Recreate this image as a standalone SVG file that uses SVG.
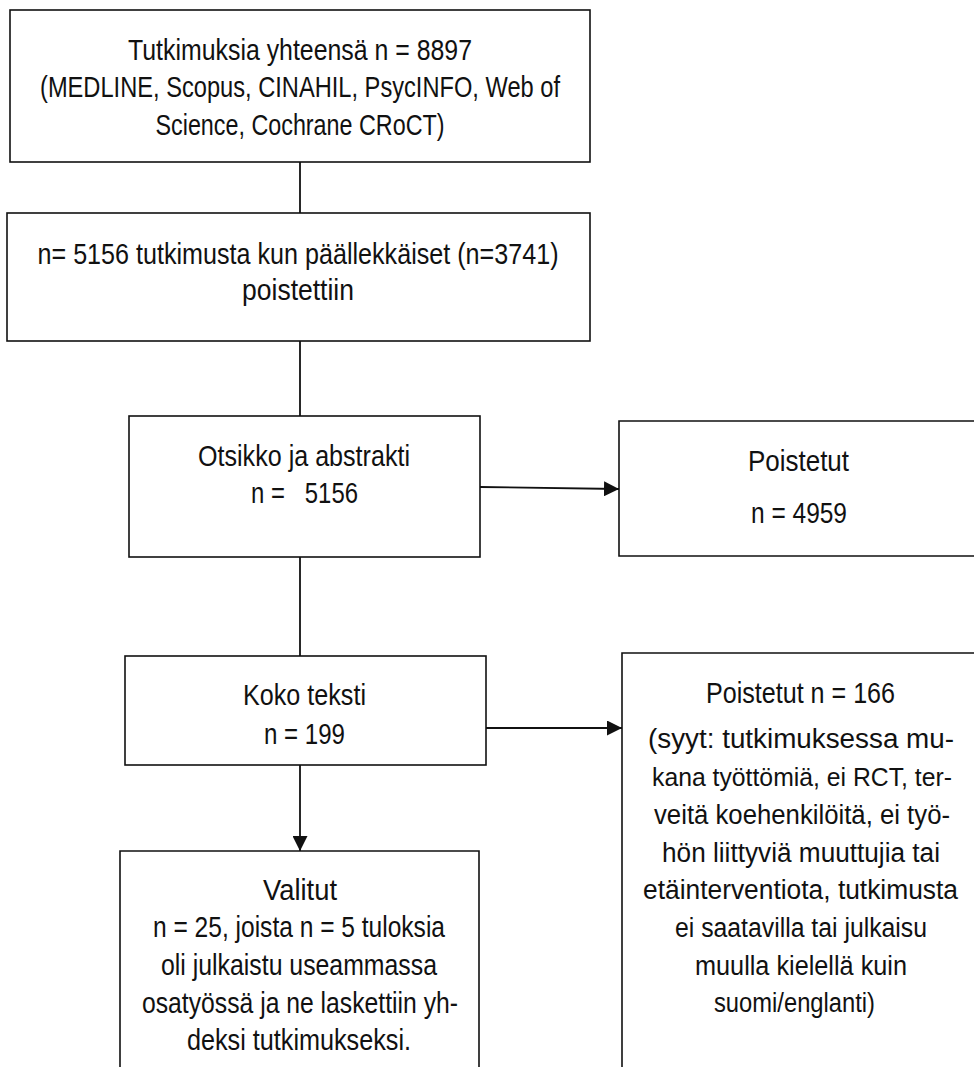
<svg xmlns="http://www.w3.org/2000/svg" width="974" height="1067" viewBox="0 0 974 1067">
<style>
.box{fill:#fff;stroke:#111;stroke-width:1.6}
.t{font-family:"Liberation Sans",Arial,sans-serif;font-size:29px;fill:#111;text-anchor:middle}
.s{font-size:27px}
.s2{font-size:25.5px}
.ln{stroke:#111;stroke-width:1.8;fill:none}
</style>
<defs>
<marker id="ah2" viewBox="0 0 10 10" refX="10" refY="5" markerWidth="15" markerHeight="15" markerUnits="userSpaceOnUse" orient="auto">
<path d="M0,0 L10,5 L0,10 z" fill="#111"/>
</marker>
</defs>
<g id="connectors">
<line class="ln" x1="300" y1="162" x2="300" y2="213"/>
<line class="ln" x1="300" y1="341" x2="300" y2="416"/>
<line class="ln" x1="300" y1="557" x2="300" y2="656"/>
<line class="ln" x1="480" y1="487" x2="619" y2="489" marker-end="url(#ah2)"/>
<line class="ln" x1="486" y1="728" x2="622" y2="728" marker-end="url(#ah2)"/>
<line class="ln" x1="300" y1="765" x2="300" y2="851" marker-end="url(#ah2)"/>
</g>
<g id="n1">
<rect class="box" x="10" y="10" width="580" height="152"/>
<text class="t" x="300" y="60" textLength="344" lengthAdjust="spacingAndGlyphs">Tutkimuksia yhteensä n = 8897</text>
<text class="t" x="300" y="97" textLength="520" lengthAdjust="spacingAndGlyphs">(MEDLINE, Scopus, CINAHIL, PsycINFO, Web of</text>
<text class="t" x="300" y="135" textLength="289" lengthAdjust="spacingAndGlyphs">Science, Cochrane CRoCT)</text>
</g>
<g id="n2">
<rect class="box" x="7" y="213" width="583" height="128"/>
<text class="t" x="298" y="264" textLength="521" lengthAdjust="spacingAndGlyphs">n= 5156 tutkimusta kun päällekkäiset (n=3741)</text>
<text class="t" x="298" y="300" textLength="112" lengthAdjust="spacingAndGlyphs">poistettiin</text>
</g>
<g id="n3">
<rect class="box" x="129" y="416" width="351" height="141"/>
<text class="t" x="304" y="466" textLength="212" lengthAdjust="spacingAndGlyphs">Otsikko ja abstrakti</text>
<text class="t" x="304.5" y="503" textLength="107" lengthAdjust="spacingAndGlyphs" xml:space="preserve" style="white-space:pre">n =   5156</text>
</g>
<g id="n4">
<path class="box" d="M974,421 H619 V556 H974"/>
<text class="t" x="798.5" y="471" textLength="101" lengthAdjust="spacingAndGlyphs">Poistetut</text>
<text class="t" x="799" y="523" textLength="96" lengthAdjust="spacingAndGlyphs">n = 4959</text>
</g>
<g id="n5">
<rect class="box" x="125" y="656" width="361" height="109"/>
<text class="t" x="304.5" y="705" textLength="123" lengthAdjust="spacingAndGlyphs">Koko teksti</text>
<text class="t" x="304.5" y="744" textLength="81" lengthAdjust="spacingAndGlyphs">n = 199</text>
</g>
<g id="n6">
<path class="box" d="M974,653 H622 V1067"/>
<text class="t" x="800.5" y="703" textLength="189" lengthAdjust="spacingAndGlyphs">Poistetut n = 166</text>
<text class="t s" x="801" y="748" textLength="306" lengthAdjust="spacingAndGlyphs">(syyt: tutkimuksessa mu-</text>
<text class="t s2" x="802" y="786" textLength="300" lengthAdjust="spacingAndGlyphs">kana työttömiä, ei RCT, ter-</text>
<text class="t s" x="802" y="824" textLength="296" lengthAdjust="spacingAndGlyphs">veitä koehenkilöitä, ei työ-</text>
<text class="t s" x="801" y="862" textLength="278" lengthAdjust="spacingAndGlyphs">hön liittyviä muuttujia tai</text>
<text class="t s" x="800.5" y="899" textLength="315" lengthAdjust="spacingAndGlyphs">etäinterventiota, tutkimusta</text>
<text class="t s" x="801" y="937" textLength="252" lengthAdjust="spacingAndGlyphs">ei saatavilla tai julkaisu</text>
<text class="t s" x="801" y="975" textLength="212" lengthAdjust="spacingAndGlyphs">muulla kielellä kuin</text>
<text class="t s" x="794.5" y="1012" textLength="161" lengthAdjust="spacingAndGlyphs">suomi/englanti)</text>
</g>
<g id="n7">
<path class="box" d="M120,1067 V851 H479 V1067"/>
<text class="t" x="300" y="900" textLength="74" lengthAdjust="spacingAndGlyphs">Valitut</text>
<text class="t" x="299" y="937" textLength="292" lengthAdjust="spacingAndGlyphs">n = 25, joista n = 5 tuloksia</text>
<text class="t" x="299" y="975" textLength="276" lengthAdjust="spacingAndGlyphs">oli julkaistu useammassa</text>
<text class="t" x="300" y="1013" textLength="316" lengthAdjust="spacingAndGlyphs">osatyössä ja ne laskettiin yh-</text>
<text class="t" x="299" y="1050" textLength="224" lengthAdjust="spacingAndGlyphs">deksi tutkimukseksi.</text>
</g>
</svg>
